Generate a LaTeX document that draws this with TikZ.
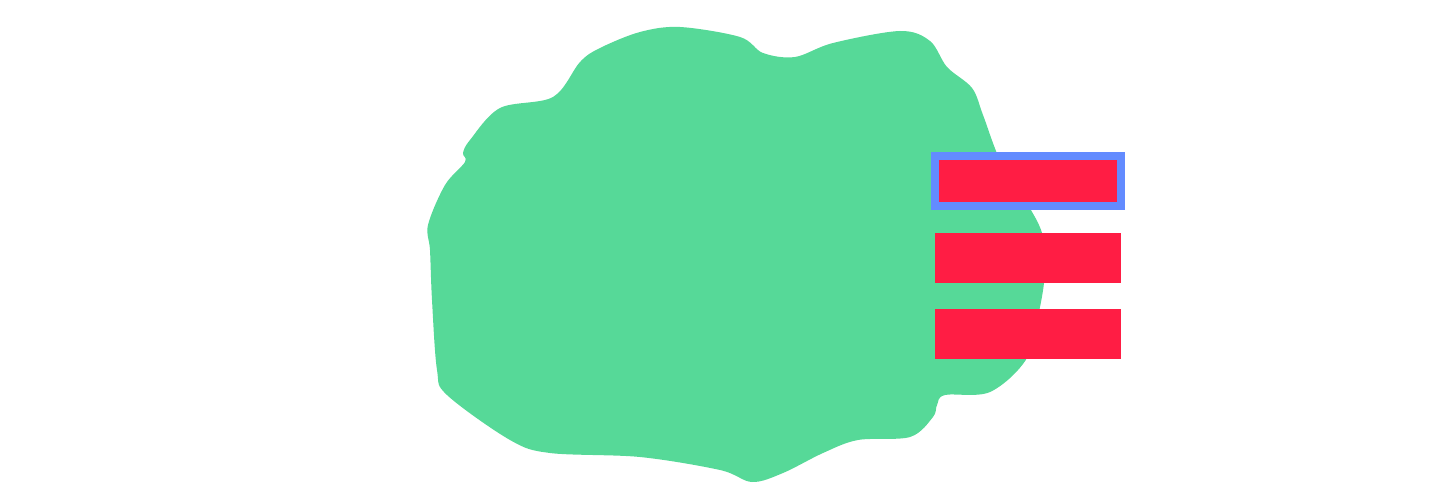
\documentclass[tikz,border=0pt]{standalone}
\definecolor{blobgreen}{HTML}{56D998}
\definecolor{barred}{HTML}{FF1D44}
\definecolor{selblue}{HTML}{638BFF}
\tikzset{
  bar/.style={fill=barred, inner sep=0pt, minimum width=3.72cm, minimum height=1cm},
  selected/.style={draw=selblue, line width=0.16cm}
}
\begin{document}
\begin{tikzpicture}[x=0.02cm, y=-0.02cm]
\useasboundingbox (0,0) rectangle (1440,500);

% the blob
\fill[blobgreen] plot[smooth cycle, tension=0.55] coordinates {
  (680,27) (740,37) (763,53) (795,57) (833,43) (900,31) (930,41)
  (947,67) (972,88) (983,115) (1000,160) (1025,200) (1042,233)
  (1045,270) (1040,307) (1027,358) (990,392) (945,395) (937,405)
  (933,417) (910,437) (858,440) (823,453) (783,473) (752,482)
  (720,470) (640,457) (550,453) (510,440) (447,395) (437,370)
  (432,300) (430,250) (428,225) (445,185) (465,162) (463,153)
  (470,140) (500,108) (553,97) (580,62) (600,48) (640,32)};

% the bars
\node[bar, selected] (bar1) at (1028,181) {};
\node[bar] (bar2) at (1028,258) {};
\node[bar] (bar3) at (1028,334) {};
\end{tikzpicture}
\end{document}
